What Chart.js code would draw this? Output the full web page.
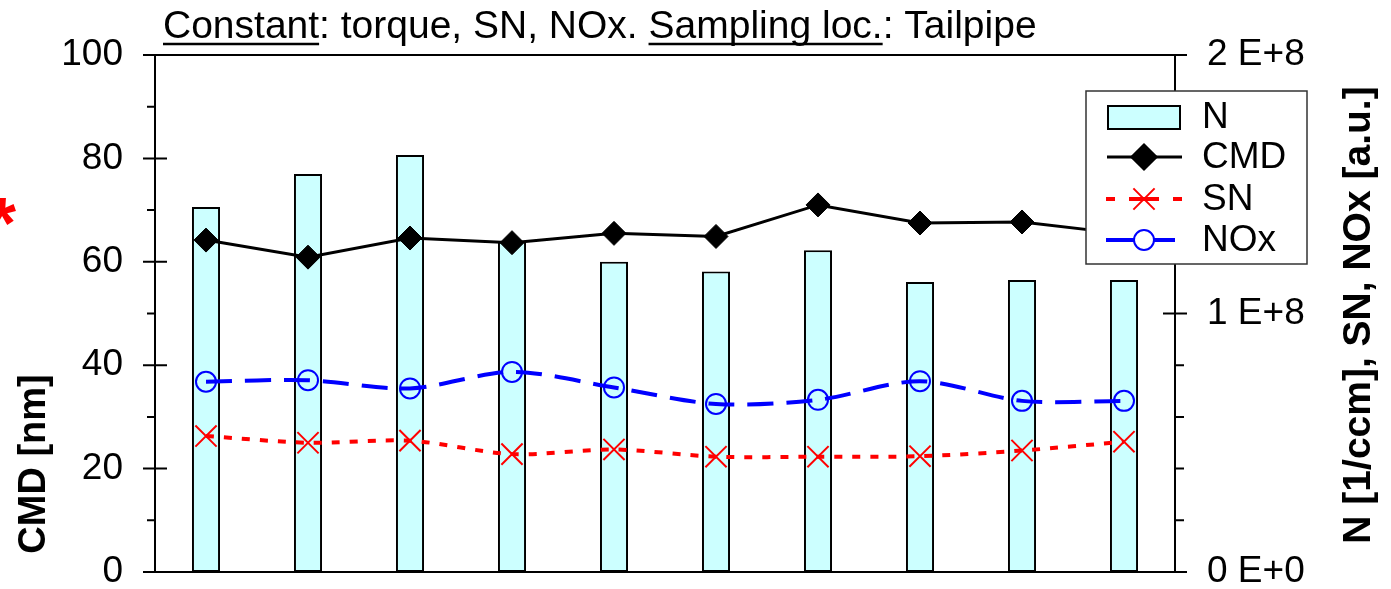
<!DOCTYPE html>
<html>
<head>
<meta charset="utf-8">
<script src="https://cdn.jsdelivr.net/npm/chart.js@4/dist/chart.umd.min.js"></script>
<style>
  html, body { margin: 0; padding: 0; background: #fff; }
  #wrap { width: 1391px; height: 589px; position: relative; }
</style>
</head>
<body>
<div id="wrap"><canvas id="grafico" width="1391" height="589"></canvas></div>
<script>
const categorias = ["1", "2", "3", "4", "5", "6", "7", "8", "9", "10"];
const valoresN = [1.412e8, 1.540e8, 1.613e8, 1.280e8, 1.200e8, 1.162e8, 1.245e8, 1.122e8, 1.130e8, 1.130e8];
const valoresCMD = [64.2, 60.9, 64.6, 63.7, 65.5, 64.9, 71.0, 67.5, 67.7, 65.4];
const valoresSN = [0.526e8, 0.500e8, 0.508e8, 0.456e8, 0.474e8, 0.446e8, 0.446e8, 0.448e8, 0.470e8, 0.504e8];
const valoresNOx = [0.736e8, 0.742e8, 0.710e8, 0.774e8, 0.714e8, 0.650e8, 0.666e8, 0.738e8, 0.662e8, 0.662e8];

const ticksEsq = [0, 20, 40, 60, 80, 100];
const ticksEsqMenor = [10, 30, 50, 70, 90];
const ticksDir = [0, 1e8, 2e8];
const rotulosDir = ["0 E+0", "1 E+8", "2 E+8"];
const ticksDirMenor = [0.2e8, 0.4e8, 0.6e8, 0.8e8, 1.2e8, 1.4e8, 1.6e8, 1.8e8];

const fonte = "'Liberation Sans', Arial, sans-serif";
const ciano = "#ccffff";

// moldura, marcas de escala, legenda e titulos desenhados por cima
const moldura = {
  id: "moldura",
  afterDatasetsDraw(chart) {
    const ctx = chart.ctx;
    const a = chart.chartArea;
    const yE = chart.scales.y;
    const yD = chart.scales.y1;
    ctx.save();
    ctx.strokeStyle = "#000";
    ctx.lineWidth = 2;
    ctx.beginPath();
    ctx.moveTo(a.left, a.top); ctx.lineTo(a.right, a.top);
    ctx.moveTo(a.left, a.top); ctx.lineTo(a.left, a.bottom);
    ctx.moveTo(a.right, a.top); ctx.lineTo(a.right, a.bottom);
    ctx.moveTo(a.left, a.bottom); ctx.lineTo(a.right, a.bottom);
    ticksEsq.forEach((v) => {
      const y = yE.getPixelForValue(v);
      ctx.moveTo(a.left - 12, y); ctx.lineTo(v === 0 || v === 100 ? a.left : a.left + 12, y);
    });
    ticksEsqMenor.forEach((v) => {
      const y = yE.getPixelForValue(v);
      ctx.moveTo(a.left - 8, y); ctx.lineTo(a.left, y);
    });
    ticksDir.forEach((v) => {
      const y = yD.getPixelForValue(v);
      ctx.moveTo(v === 1e8 ? a.right - 12 : a.right, y); ctx.lineTo(a.right + 12, y);
    });
    ticksDirMenor.forEach((v) => {
      const y = yD.getPixelForValue(v);
      ctx.moveTo(a.right, y); ctx.lineTo(a.right + 9, y);
    });
    ctx.stroke();

    // legenda
    const lx = 1086, ly = 91, lw = 221, lh = 173;
    ctx.fillStyle = "#fff";
    ctx.fillRect(lx, ly, lw, lh);
    ctx.strokeStyle = "#333";
    ctx.lineWidth = 1.5;
    ctx.strokeRect(lx, ly, lw, lh);

    const mx = 1144;
    ctx.fillStyle = ciano;
    ctx.strokeStyle = "#000";
    ctx.lineWidth = 2;
    ctx.fillRect(1108, 106, 72, 23);
    ctx.strokeRect(1108, 106, 72, 23);

    ctx.beginPath();
    ctx.lineWidth = 3;
    ctx.moveTo(1107, 157); ctx.lineTo(1182, 157);
    ctx.stroke();
    ctx.fillStyle = "#000";
    Chart.helpers.drawPoint(ctx, { pointStyle: "rectRot", radius: 12, borderWidth: 1 }, mx, 157);

    ctx.strokeStyle = "#ff0000";
    ctx.lineWidth = 4;
    ctx.beginPath();
    [[1106, 1115], [1129, 1159], [1173, 1182]].forEach(([x1, x2]) => { ctx.moveTo(x1, 199); ctx.lineTo(x2, 199); });
    ctx.stroke();
    ctx.lineWidth = 2;
    Chart.helpers.drawPoint(ctx, { pointStyle: "crossRot", radius: 15, borderWidth: 2 }, mx, 199);

    ctx.strokeStyle = "#0000ff";
    ctx.lineWidth = 4;
    ctx.beginPath();
    ctx.moveTo(1106, 240); ctx.lineTo(1175, 240);
    ctx.stroke();
    ctx.fillStyle = "#fff";
    ctx.lineWidth = 2;
    Chart.helpers.drawPoint(ctx, { pointStyle: "circle", radius: 10, borderWidth: 2 }, mx, 240);

    ctx.fillStyle = "#000";
    ctx.font = "37px " + fonte;
    ctx.textBaseline = "middle";
    ctx.textAlign = "left";
    [["N", 118], ["CMD", 158], ["SN", 200], ["NOx", 241]].forEach(([t, y]) => ctx.fillText(t, 1202, y));
    ctx.restore();
  },
  afterDraw(chart) {
    const ctx = chart.ctx;
    ctx.save();
    ctx.fillStyle = "#000";
    ctx.strokeStyle = "#000";

    // titulo com sublinhados
    ctx.font = "39px " + fonte;
    ctx.textBaseline = "alphabetic";
    ctx.textAlign = "left";
    const partes = [["Constant", true], [": torque, SN, NOx. ", false], ["Sampling loc.", true], [": Tailpipe", false]];
    let x = 163;
    ctx.lineWidth = 2.5;
    partes.forEach(([t, sub]) => {
      ctx.fillText(t, x, 38);
      const w = ctx.measureText(t).width;
      if (sub) {
        ctx.beginPath();
        ctx.moveTo(x, 44); ctx.lineTo(x + w, 44);
        ctx.stroke();
      }
      x += w;
    });

    // titulos dos eixos
    ctx.font = "bold 38px " + fonte;
    ctx.textAlign = "center";
    ctx.save();
    ctx.translate(45, 464);
    ctx.rotate(-Math.PI / 2);
    ctx.fillText("CMD [nm]", 0, 0);
    ctx.restore();
    ctx.font = "bold 39px " + fonte;
    ctx.save();
    ctx.translate(1370, 315);
    ctx.rotate(-Math.PI / 2);
    ctx.fillText("N [1/ccm], SN, NOx [a.u.]", 0, 0);
    ctx.restore();

    // asterisco vermelho na margem
    ctx.fillStyle = "#ff0000";
    ctx.font = "bold 72px " + fonte;
    ctx.textAlign = "center";
    ctx.fillText("*", 2, 248);
    ctx.restore();
  }
};

function semPadding(scale) {
  scale.paddingTop = 0;
  scale.paddingBottom = 0;
  scale.paddingLeft = 0;
  scale.paddingRight = 0;
}

new Chart(document.getElementById("grafico"), {
  type: "bar",
  data: {
    labels: categorias,
    datasets: [
      { type: "line", label: "CMD", data: valoresCMD, yAxisID: "y", order: 1, borderColor: "#000", borderWidth: 3, tension: 0,
        pointStyle: "rectRot", pointRadius: 12, pointBackgroundColor: "#000", pointBorderColor: "#000", pointBorderWidth: 1 },
      { type: "line", label: "NOx", data: valoresNOx, yAxisID: "y1", order: 2, borderColor: "#0000ff", borderWidth: 4, borderDash: [26, 13], tension: 0.3,
        pointStyle: "circle", pointRadius: 10, pointBackgroundColor: "rgba(0,0,0,0)", pointBorderColor: "#0000ff", pointBorderWidth: 2 },
      { type: "line", label: "SN", data: valoresSN, yAxisID: "y1", order: 3, borderColor: "#ff0000", borderWidth: 4, borderDash: [8, 10], tension: 0.3,
        pointStyle: "crossRot", pointRadius: 15, pointBorderColor: "#ff0000", pointBorderWidth: 2 },
      { type: "bar", label: "N", data: valoresN, yAxisID: "y1", order: 4, backgroundColor: ciano, borderColor: "#000", borderWidth: 2,
        borderSkipped: false, categoryPercentage: 1, barPercentage: 0.275 }
    ]
  },
  options: {
    responsive: false,
    animation: false,
    layout: { padding: { top: 55, left: 0, right: 0, bottom: 0 } },
    plugins: { legend: { display: false }, tooltip: { enabled: false } },
    scales: {
      x: {
        offset: true,
        grid: { display: false, drawTicks: false },
        border: { display: false },
        ticks: { display: false },
        afterFit: (s) => { s.height = 17; semPadding(s); }
      },
      y: {
        position: "left",
        min: 0, max: 100,
        grid: { display: false, drawTicks: false },
        border: { display: false },
        ticks: { stepSize: 20, padding: 32, color: "#000", font: { family: fonte, size: 37 } },
        afterFit: (s) => { s.width = 155; semPadding(s); }
      },
      y1: {
        position: "right",
        min: 0, max: 2e8,
        grid: { display: false, drawTicks: false },
        border: { display: false },
        ticks: { stepSize: 1e8, padding: 32, color: "#000", font: { family: fonte, size: 37 },
          callback: (v) => rotulosDir[ticksDir.indexOf(v)] },
        afterFit: (s) => { s.width = 216; semPadding(s); }
      }
    }
  },
  plugins: [moldura]
});
</script>
</body>
</html>
